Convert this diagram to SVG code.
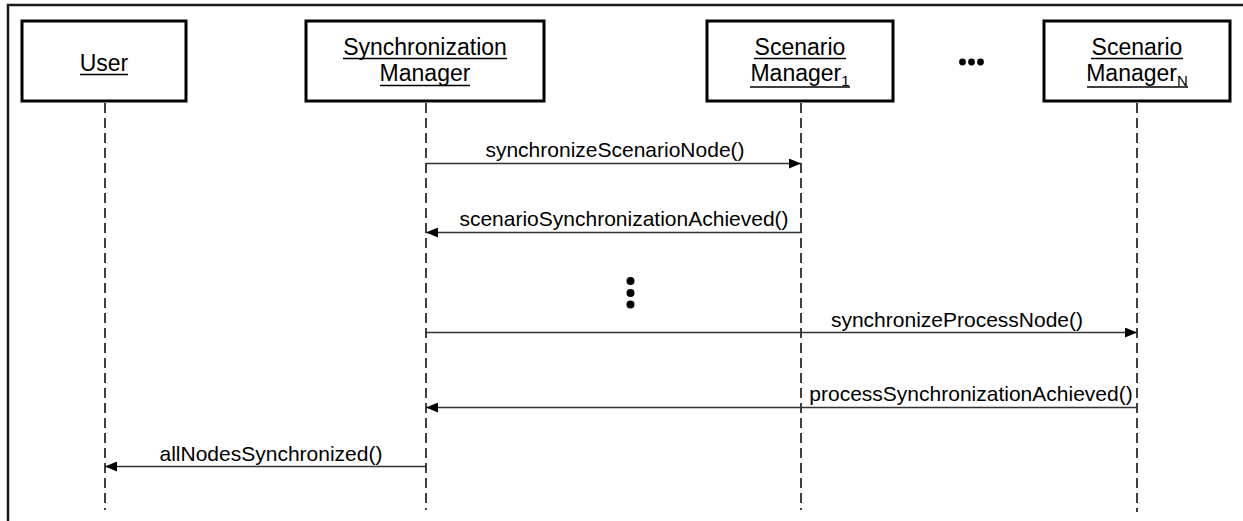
<svg xmlns="http://www.w3.org/2000/svg" width="1243" height="521" viewBox="0 0 1243 521">
<style>
.box{fill:#fff;stroke:#000;stroke-width:3}
.nt{font-family:"Liberation Sans",Arial,sans-serif;font-size:23px;fill:#000;text-anchor:middle}
.sub{font-size:15px}
.ul{stroke:#000;stroke-width:1.3}
.life{stroke:#000;stroke-width:1.5;stroke-dasharray:10,5;fill:none}
.msg{stroke:#333;stroke-width:1.5;fill:none}
.mt{font-family:"Liberation Sans",Arial,sans-serif;font-size:21px;fill:#000;text-anchor:middle}
.frame{stroke:#1a1a1a;stroke-width:2.5;fill:none}
</style>
<defs>
<marker id="ah" viewBox="0 0 12 10" refX="12" refY="5" markerWidth="12" markerHeight="10" markerUnits="userSpaceOnUse" orient="auto">
<path d="M0,0 L12,5 L0,10 Z" fill="#000"/>
</marker>
</defs>
<rect width="1243" height="521" fill="#fff"/>
<path class="frame" d="M8,521 L8,5 L1243,5"/>

<g id="lifelines">
<line class="life" x1="105" y1="103" x2="105" y2="510"/>
<line class="life" x1="426" y1="103" x2="426" y2="510"/>
<line class="life" x1="801" y1="103" x2="801" y2="510"/>
<line class="life" x1="1137" y1="103" x2="1137" y2="512"/>
</g>

<g id="user">
<rect class="box" x="22" y="21" width="164" height="80"/>
<text class="nt" x="104" y="71">User</text>
<line class="ul" x1="80" y1="74.5" x2="128" y2="74.5"/>
</g>

<g id="sync-manager">
<rect class="box" x="306" y="21" width="238" height="80"/>
<text class="nt" x="425" y="55">Synchronization</text>
<line class="ul" x1="343" y1="58.5" x2="507" y2="58.5"/>
<text class="nt" x="425" y="81">Manager</text>
<line class="ul" x1="380" y1="85.5" x2="470" y2="85.5"/>
</g>

<g id="scenario-manager-1">
<rect class="box" x="707" y="21" width="186" height="80"/>
<text class="nt" x="800" y="55">Scenario</text>
<line class="ul" x1="754" y1="58.5" x2="846" y2="58.5"/>
<text class="nt" x="800" y="81">Manager<tspan class="sub" dy="5">1</tspan></text>
<line class="ul" x1="750" y1="87" x2="850" y2="87"/>
</g>

<g id="ellipsis-h">
<circle cx="962.5" cy="62" r="3.4" fill="#000"/>
<circle cx="971.5" cy="62" r="3.4" fill="#000"/>
<circle cx="980.5" cy="62" r="3.4" fill="#000"/>
</g>

<g id="scenario-manager-n">
<rect class="box" x="1044" y="21" width="186" height="80"/>
<text class="nt" x="1137" y="55">Scenario</text>
<line class="ul" x1="1091" y1="58.5" x2="1183" y2="58.5"/>
<text class="nt" x="1137" y="81">Manager<tspan class="sub" dy="5">N</tspan></text>
<line class="ul" x1="1087" y1="87" x2="1188" y2="87"/>
</g>

<g id="ellipsis-v">
<circle cx="630.5" cy="281" r="4" fill="#000"/>
<circle cx="630.5" cy="293" r="4" fill="#000"/>
<circle cx="630.5" cy="304.5" r="4" fill="#000"/>
</g>

<g id="connectors">
<line class="msg" x1="426" y1="163.5" x2="801" y2="163.5" marker-end="url(#ah)"/>
<text class="mt" x="615" y="157">synchronizeScenarioNode()</text>
<line class="msg" x1="801" y1="232.5" x2="426" y2="232.5" marker-end="url(#ah)"/>
<text class="mt" x="624" y="226">scenarioSynchronizationAchieved()</text>
<line class="msg" x1="426" y1="332.5" x2="1137" y2="332.5" marker-end="url(#ah)"/>
<text class="mt" x="957" y="327">synchronizeProcessNode()</text>
<line class="msg" x1="1137" y1="407.5" x2="426" y2="407.5" marker-end="url(#ah)"/>
<text class="mt" x="971" y="401">processSynchronizationAchieved()</text>
<line class="msg" x1="426" y1="466.5" x2="105" y2="466.5" marker-end="url(#ah)"/>
<text class="mt" x="271" y="461">allNodesSynchronized()</text>
</g>
</svg>
